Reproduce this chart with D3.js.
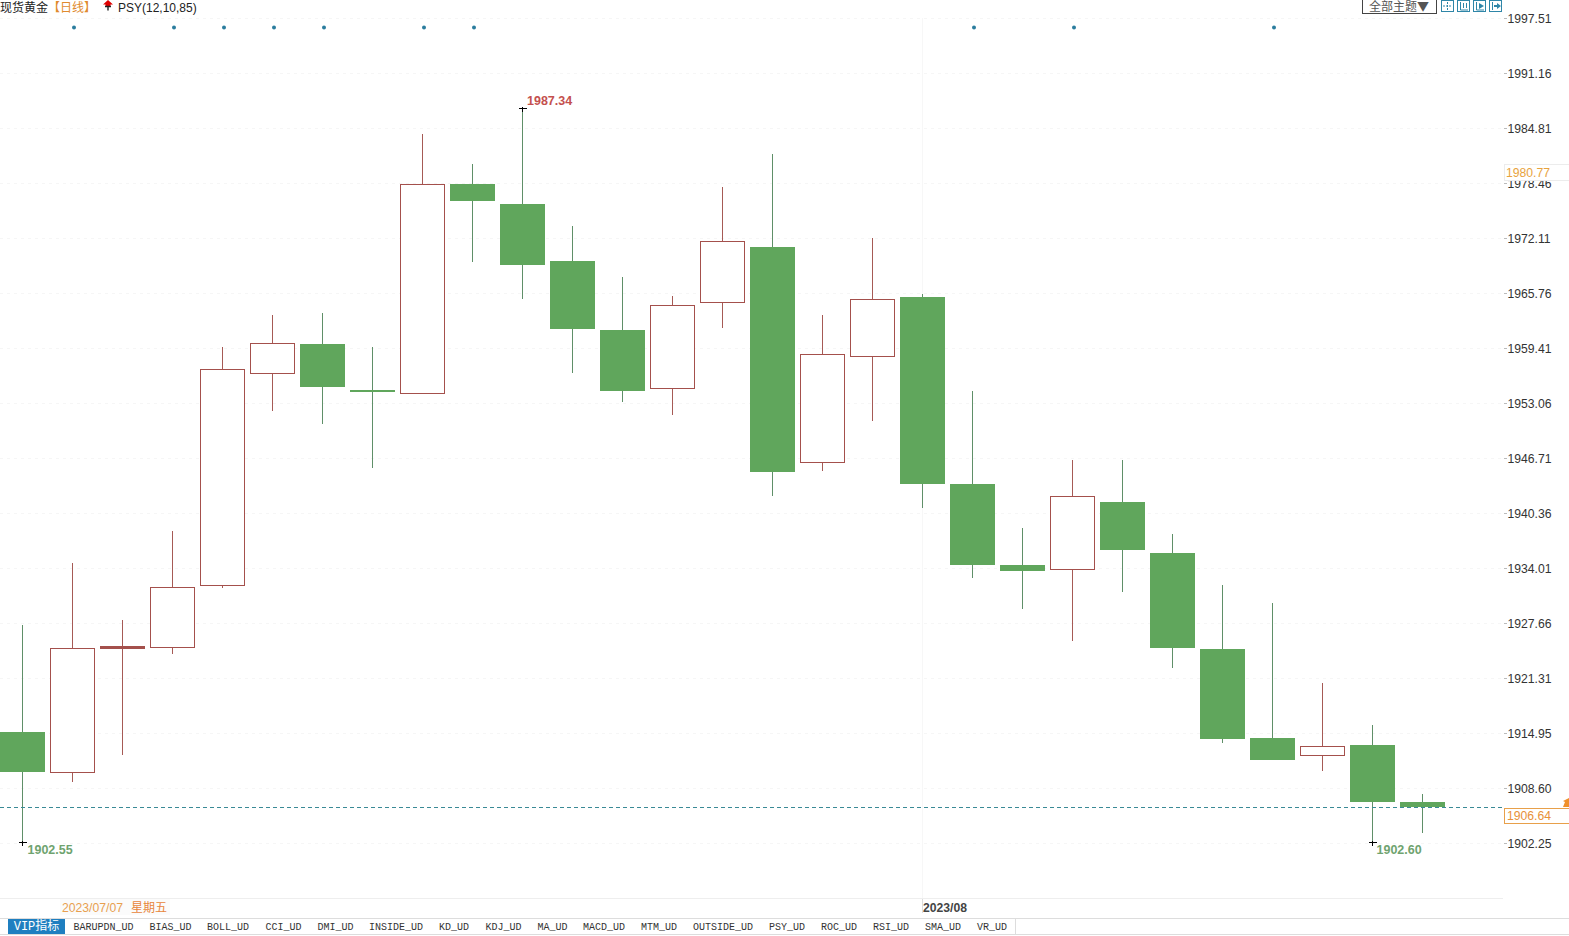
<!DOCTYPE html>
<html><head><meta charset="utf-8">
<script src="https://cdn.jsdelivr.net/npm/d3@7"></script>
<style>html,body{margin:0;padding:0;background:#fff;overflow:hidden}svg{display:block}</style>
</head><body><svg id="c" width="1569" height="936"></svg>
<script>
const highs=[1927.42,1934.58,1928.00,1938.28,1959.52,1963.22,1963.45,1959.52,1984.12,1980.65,1987.22,1973.49,1967.60,1965.41,1978.00,1981.81,1963.22,1972.11,1965.64,1954.44,1938.62,1946.47,1946.47,1937.93,1932.04,1929.96,1920.72,1915.88,1907.91];
const tops=[1915.07,1924.77,1925.00,1931.81,1956.98,1959.98,1959.87,1954.61,1978.34,1978.34,1976.03,1969.45,1961.48,1964.37,1971.76,1971.07,1958.71,1965.06,1965.29,1943.70,1934.35,1942.32,1941.62,1935.74,1924.65,1914.37,1913.45,1913.57,1906.98];
const bottoms=[1910.56,1910.45,1924.77,1924.88,1932.04,1956.52,1955.02,1954.44,1954.21,1976.50,1969.10,1961.72,1954.56,1954.79,1964.72,1945.20,1946.24,1958.48,1943.82,1934.46,1933.77,1933.89,1936.20,1924.88,1914.37,1911.95,1912.41,1907.10,1906.52];
const lows=[1902.41,1909.41,1912.53,1924.19,1931.81,1952.25,1950.75,1945.67,1954.21,1969.45,1965.18,1956.63,1953.29,1951.79,1961.83,1942.43,1945.32,1951.09,1941.05,1932.96,1929.38,1925.69,1931.35,1922.57,1913.91,1911.95,1910.68,1902.41,1903.52];
const rising=[0,1,1,1,1,1,0,0,1,0,0,0,0,1,1,0,1,1,0,0,0,1,0,0,0,0,1,0,0];
const signalIdx=[1,3,4,5,6,8,9,19,21,25];
const tickVals=[1997.51,1991.16,1984.81,1978.46,1972.11,1965.76,1959.41,1953.06,1946.71,1940.36,1934.01,1927.66,1921.31,1914.95,1908.60,1902.25];
const tabNames=["VIP指标","BARUPDN_UD","BIAS_UD","BOLL_UD","CCI_UD","DMI_UD","INSIDE_UD","KD_UD","KDJ_UD","MA_UD","MACD_UD","MTM_UD","OUTSIDE_UD","PSY_UD","ROC_UD","RSI_UD","SMA_UD","VR_UD"];
const tabEdges=[8,65,142,199,257,310,361,431,477,530,575,633,685,761,813,865,917,969,1015];
const lastPrice=1906.64, lastLine=1906.46, prevClose=1980.77;
const highLabel="1987.34", lowLabelA="1902.55", lowLabelB="1902.60";

const GREEN="#60a65c", WICKG="#5f8f68", RED="#a4504c", WICKR="#a65a55", SANS="'Liberation Sans',Arial,sans-serif", CJK="'Noto Sans CJK SC',sans-serif";
const svg=d3.select("#c");
const y=d3.scaleLinear().domain([1997.51,1902.25]).range([18.4,843.4]);
const x=d3.scaleLinear().domain([0,28]).range([22,1422]);
const sy=v=>Math.round(y(v))+.5;

// grid
const grid=svg.append("g").attr("shape-rendering","crispEdges");
grid.selectAll("line").data(tickVals).join("line")
 .attr("x1",0).attr("x2",1503).attr("y1",sy).attr("y2",sy)
 .attr("stroke","#f6f6f6").attr("stroke-dasharray","3,4");
grid.append("line").attr("x1",922.5).attr("x2",922.5).attr("y1",18).attr("y2",898).attr("stroke","#f7f7f7");
grid.append("line").attr("x1",922.5).attr("x2",922.5).attr("y1",898).attr("y2",913).attr("stroke","#dddddd");
grid.append("line").attr("x1",0).attr("x2",1503).attr("y1",898.5).attr("y2",898.5).attr("stroke","#eeeeee");

// candles
const idx=d3.range(highs.length);
const g=svg.append("g").attr("shape-rendering","crispEdges");
g.selectAll("line.w").data(idx).join("line").attr("class","w")
 .attr("x1",i=>x(i)+.5).attr("x2",i=>x(i)+.5)
 .attr("y1",i=>i==10?sy(highs[i]):sy(highs[i])-1).attr("y2",i=>sy(lows[i]))
 .attr("stroke",i=>rising[i]?WICKR:WICKG).attr("stroke-width",1);
const bodyH=i=>Math.max(1,sy(bottoms[i])-sy(tops[i]));
g.selectAll("rect").data(idx).join("rect")
 .attr("x",i=>x(i)-22+.5).attr("width",44)
 .attr("y",i=>sy(tops[i])).attr("height",bodyH)
 .attr("fill",i=>rising[i]?(bodyH(i)<3?RED:"#fff"):GREEN)
 .attr("stroke",i=>rising[i]?RED:GREEN).attr("stroke-width",1);

// signal dots
svg.append("g").selectAll("circle").data(signalIdx).join("circle")
 .attr("cx",i=>x(i)+2).attr("cy",27.5).attr("r",2).attr("fill","#2b7d9e");

// current price line
svg.append("line").attr("x1",0).attr("x2",1503).attr("y1",sy(lastLine)).attr("y2",sy(lastLine))
 .attr("stroke","#3a8a96").attr("stroke-dasharray","4,3").attr("shape-rendering","crispEdges");

// right axis
const axis=d3.axisRight(y).tickValues(tickVals).tickFormat(d3.format(".2f")).tickSize(3).tickPadding(1);
const ag=svg.append("g").attr("transform","translate(1503.5,0)").call(axis);
ag.select(".domain").remove();
ag.selectAll("line").attr("stroke","#bbb").attr("shape-rendering","crispEdges");
ag.selectAll("text").attr("font-family",SANS).attr("font-size",12.2).attr("fill","#333");

// price boxes
svg.append("rect").attr("x",1504.5).attr("y",164.5).attr("width",70).attr("height",16).attr("fill","#fff").attr("stroke","#ececec").attr("shape-rendering","crispEdges");
svg.append("text").attr("x",1506).attr("y",177).text(prevClose.toFixed(2)).attr("font-family",SANS).attr("font-size",12.2).attr("fill","#e8a33d");
svg.append("rect").attr("x",1504.5).attr("y",808.5).attr("width",70).attr("height",15).attr("fill","#fff").attr("stroke","#e8a04a").attr("shape-rendering","crispEdges");
svg.append("text").attr("x",1507).attr("y",820).text(lastPrice.toFixed(2)).attr("font-family",SANS).attr("font-size",12.2).attr("fill","#e8913a");
svg.append("path").attr("d","M1563,807 L1565,802 L1563,801 L1569,798 L1569,807 Z").attr("fill","#f0902a");

// hi/lo annotations
function cross(i,v){const px=x(i),py=sy(v);
 svg.append("path").attr("d",`M${px-3},${py}H${px+5}M${px+.5},${py-2}V${py+3}`).attr("stroke","#000").attr("fill","none").attr("shape-rendering","crispEdges");}
cross(10,highs[10]);cross(0,lows[0]);cross(27,lows[27]);
const lab=(t,px,py,c)=>svg.append("text").attr("x",px).attr("y",py).text(t).attr("font-family",SANS).attr("font-size",12.5).attr("font-weight","bold").attr("fill",c);
lab(highLabel,527,105,"#c4504e");lab(lowLabelA,27.5,854,"#6fa36f");lab(lowLabelB,1376.5,854,"#6fa36f");

// title
svg.append("text").attr("x",0).attr("y",12).attr("font-family",CJK).attr("font-size",12).attr("fill","#222").text("现货黄金");
svg.append("text").attr("x",48).attr("y",12).attr("font-family",CJK).attr("font-size",12).attr("fill","#e08a2e").text("【日线】");
svg.append("path").attr("d","M108,0 L113,4.5 L110.5,4.5 L110.5,6 L105.5,6 L105.5,4.5 L103,4.5 Z").attr("fill","#e00000");
svg.append("path").attr("d","M105,6.5 H111 M108,6.5 V10.5").attr("stroke","#222").attr("stroke-width",1.4).attr("fill","none");
svg.append("text").attr("x",118).attr("y",11.5).attr("font-family",SANS).attr("font-size",12).attr("fill","#222").text("PSY(12,10,85)");

// top-right tools
svg.append("rect").attr("x",1362.5).attr("y",-2).attr("width",74).attr("height",15).attr("fill","#fff").attr("stroke","#444").attr("shape-rendering","crispEdges");
svg.append("text").attr("x",1369).attr("y",11).attr("font-family",CJK).attr("font-size",12).attr("fill","#555").text("全部主题▼");
[1441,1457,1473,1489].forEach((bx,k)=>{
 svg.append("rect").attr("x",bx+.5).attr("y",0.5).attr("width",12).attr("height",11).attr("fill","#fff").attr("stroke","#2f86a8").attr("shape-rendering","crispEdges");
 const c="#2f86a8";
 if(k==0) svg.append("path").attr("d",`M${bx+6.5},2V10M${bx+2},6H${bx+11}`).attr("stroke",c).attr("fill","none").attr("stroke-dasharray","2,1");
 if(k==1) svg.append("path").attr("d",`M${bx+3.5},2V10H${bx+11}M${bx+6.5},3V8M${bx+9.5},3V8`).attr("stroke",c).attr("fill","none");
 if(k==2){svg.append("path").attr("d",`M${bx+3.5},2V10H${bx+11}`).attr("stroke",c).attr("fill","none");svg.append("path").attr("d",`M${bx+6},3L${bx+11},6L${bx+6},9Z`).attr("fill",c);}
 if(k==3){svg.append("path").attr("d",`M${bx+3.5},2V10`).attr("stroke",c).attr("fill","none");svg.append("path").attr("d",`M${bx+5},5H${bx+8}V3L${bx+12},6L${bx+8},9V7H${bx+5}Z`).attr("fill",c);}
});

// date strip
svg.append("rect").attr("x",60).attr("y",899).attr("width",110).attr("height",16).attr("fill","#fbfbfb");
svg.append("text").attr("x",62).attr("y",912).attr("font-family",SANS).attr("font-size",12.2).attr("fill","#e8a050").text("2023/07/07");
svg.append("text").attr("x",131).attr("y",912).attr("font-family",CJK).attr("font-size",12).attr("fill","#e8863a").text("星期五");
svg.append("text").attr("x",923).attr("y",912).attr("font-family",SANS).attr("font-size",12.2).attr("font-weight","bold").attr("fill","#444").text("2023/08");

// tabs
svg.append("line").attr("x1",0).attr("x2",1569).attr("y1",918.5).attr("y2",918.5).attr("stroke","#ddd");
svg.append("line").attr("x1",0).attr("x2",1569).attr("y1",934.5).attr("y2",934.5).attr("stroke","#ddd");
const tabs=svg.append("g").selectAll("g").data(tabNames).join("g");
tabs.append("rect").attr("x",(d,i)=>tabEdges[i]).attr("y",919).attr("width",(d,i)=>tabEdges[i+1]-tabEdges[i]).attr("height",15)
 .attr("fill",(d,i)=>i==0?"#1f7fc0":"#fff");
tabs.append("line").attr("x1",(d,i)=>tabEdges[i+1]+.5).attr("x2",(d,i)=>tabEdges[i+1]+.5).attr("y1",919).attr("y2",934).attr("stroke","#ddd");
tabs.append("text").attr("x",(d,i)=>(tabEdges[i]+tabEdges[i+1])/2).attr("y",930)
 .attr("text-anchor","middle").attr("font-family","'Liberation Mono','Noto Sans CJK SC',monospace").attr("font-size",(d,i)=>i==0?12:10)
 .attr("fill",(d,i)=>i==0?"#fff":"#333").text(d=>d);
</script></body></html>
